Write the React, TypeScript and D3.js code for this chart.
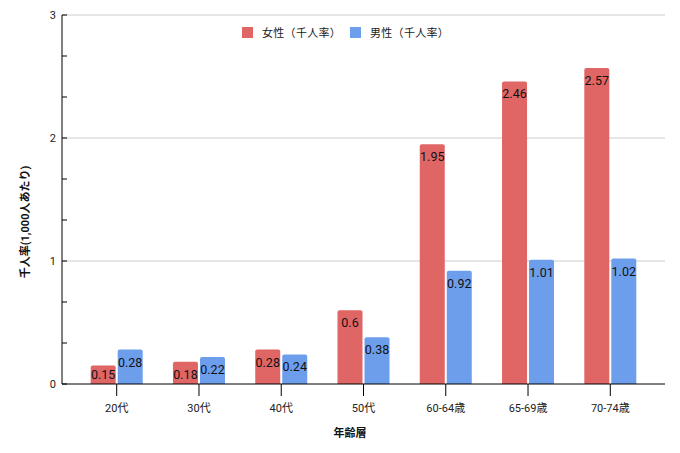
import React from "react";
import * as d3 from "d3";

const categories = ["20代", "30代", "40代", "50代", "60-64歳", "65-69歳", "70-74歳"];
const female = [0.15, 0.18, 0.28, 0.6, 1.95, 2.46, 2.57];
const male = [0.28, 0.22, 0.24, 0.38, 0.92, 1.01, 1.02];
const seriesNames = ["女性（千人率）", "男性（千人率）"];
const colors = ["#e06666", "#6d9eeb"];
const majorTicks = [0, 1, 2, 3];
const minorTicks = [1 / 3, 2 / 3, 4 / 3, 5 / 3, 7 / 3, 8 / 3];

const W = 680;
const H = 453;
const left = 62;
const right = 665;
const top = 15;
const bottom = 384;
const font = "Roboto, 'Noto Sans CJK JP', sans-serif";

export default function App() {
  const x = d3.scalePoint<string>().domain(categories).range([left, right]).padding(0.665);
  const y = d3.scaleLinear().domain([0, 3]).range([bottom, top]);
  const barW = 25;
  const gap = 2;
  const series = [female, male];

  const barPath = (x0: number, y0: number, w: number, h: number, r: number) => {
    const rr = Math.min(r, h);
    return `M${x0},${y0 + h}V${y0 + rr}Q${x0},${y0} ${x0 + rr},${y0}H${x0 + w - rr}Q${x0 + w},${y0} ${x0 + w},${y0 + rr}V${y0 + h}Z`;
  };

  return (
    <svg width={W} height={H} style={{ display: "block", margin: "-8px" }} fontFamily={font}>
      <rect width={W} height={H} fill="#fff" />
      {majorTicks.filter((t) => t > 0).map((t) => (
        <line key={t} x1={left} x2={right} y1={y(t)} y2={y(t)} stroke="#cccccc" strokeWidth={1} />
      ))}
      {majorTicks.map((t) => (
        <text key={"l" + t} x={left - 6} y={y(t) + 4} textAnchor="end" fontSize={11} fill="#222">
          {t}
        </text>
      ))}
      {[...majorTicks, ...minorTicks].map((t, i) => (
        <line key={"t" + i} x1={left} x2={left + 5} y1={y(t)} y2={y(t)} stroke="#000" strokeWidth={1} />
      ))}
      {categories.map((c, i) => {
        const cx = x(c)!;
        return (
          <g key={c}>
            {series.map((s, j) => {
              const v = s[i];
              const bx = j === 0 ? cx - gap / 2 - barW : cx + gap / 2;
              const by = y(v);
              const bh = bottom - by;
              const ty = Math.min(by + 17, bottom - 5);
              return (
                <g key={j}>
                  <path d={barPath(bx, by, barW, bh, 2)} fill={colors[j]} />
                  <text x={bx + barW / 2} y={ty} textAnchor="middle" fontSize={12.5} fill="#111">
                    {v}
                  </text>
                </g>
              );
            })}
            <line x1={cx} x2={cx} y1={bottom} y2={bottom + 12} stroke="#000" strokeWidth={1} />
            <text x={cx} y={bottom + 28} textAnchor="middle" fontSize={11} fill="#222">
              {c}
            </text>
          </g>
        );
      })}
      <line x1={left} x2={right} y1={bottom} y2={bottom} stroke="#000" strokeWidth={1} />
      <line x1={left} x2={left} y1={top} y2={bottom} stroke="#000" strokeWidth={1} />
      {seriesNames.map((n, j) => (
        <g key={n} transform={`translate(${j === 0 ? 242 : 350},27)`}>
          <rect width={11} height={11} fill={colors[j]} />
          <text x={20} y={10} fontSize={11} fill="#222" letterSpacing={0.3}>
            {n}
          </text>
        </g>
      ))}
      <text x={350} y={437} textAnchor="middle" fontSize={11} fontWeight="bold" fill="#111">
        年齢層
      </text>
      <text
        transform={`translate(29,222) rotate(-90)`}
        textAnchor="middle"
        fontSize={11}
        fontWeight="bold"
        fill="#111"
      >
        千人率(1,000人あたり)
      </text>
    </svg>
  );
}
